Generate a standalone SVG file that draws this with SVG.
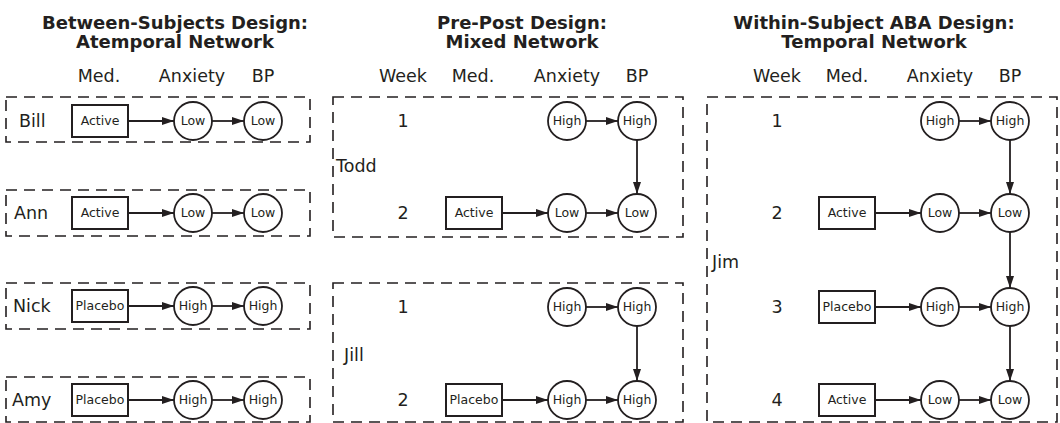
<svg xmlns="http://www.w3.org/2000/svg" width="1060" height="423" viewBox="0 0 1060 423">
<style>
  text { font-family: "DejaVu Sans", Verdana, "Liberation Sans", sans-serif; fill: #231f20; }
  .title { font-size: 18px; font-weight: bold; text-anchor: middle; }
  .hdr { font-size: 17.5px; text-anchor: middle; }
  .name { font-size: 17.5px; }
  .wk { font-size: 17.5px; text-anchor: middle; }
  .nt { font-size: 12.5px; text-anchor: middle; }
  .box { fill: none; stroke: #231f20; stroke-width: 1.6; stroke-dasharray: 11 7; }
  .med { fill: #fff; stroke: #231f20; stroke-width: 2; }
  .var { fill: #fff; stroke: #231f20; stroke-width: 1.8; }
  .edge { fill: none; stroke: #231f20; stroke-width: 1.8; marker-end: url(#ah); }
</style>
<defs>
  <marker id="ah" viewBox="0 0 12 8" refX="12" refY="4" markerWidth="12" markerHeight="8" markerUnits="userSpaceOnUse" orient="auto">
    <path d="M0,0 L12,4 L0,8 z" fill="#231f20"/>
  </marker>
</defs>

<!-- titles and headers -->
<g id="headers">
  <text class="title" x="175" y="29">Between-Subjects Design:</text>
  <text class="title" x="175" y="48">Atemporal Network</text>
  <text class="title" x="522" y="29">Pre-Post Design:</text>
  <text class="title" x="522" y="48">Mixed Network</text>
  <text class="title" x="874" y="29">Within-Subject ABA Design:</text>
  <text class="title" x="874" y="48">Temporal Network</text>

  <text class="hdr" x="99" y="82">Med.</text>
  <text class="hdr" x="192" y="82">Anxiety</text>
  <text class="hdr" x="263" y="82">BP</text>

  <text class="hdr" x="403" y="82">Week</text>
  <text class="hdr" x="473" y="82">Med.</text>
  <text class="hdr" x="567" y="82">Anxiety</text>
  <text class="hdr" x="637" y="82">BP</text>

  <text class="hdr" x="777" y="82">Week</text>
  <text class="hdr" x="847" y="82">Med.</text>
  <text class="hdr" x="940" y="82">Anxiety</text>
  <text class="hdr" x="1010" y="82">BP</text>
</g>

<!-- subject boxes -->
<g id="box-bill"><rect class="box" x="6" y="97" width="304" height="45"/><text class="name" x="19" y="127">Bill</text></g>
<g id="box-ann"><rect class="box" x="6" y="190" width="304" height="46"/><text class="name" x="14" y="219">Ann</text></g>
<g id="box-nick"><rect class="box" x="6" y="283" width="304" height="46"/><text class="name" x="13" y="312">Nick</text></g>
<g id="box-amy"><rect class="box" x="6" y="377" width="304" height="45"/><text class="name" x="12" y="406">Amy</text></g>
<g id="box-todd"><rect class="box" x="333" y="97" width="350" height="140"/><text class="name" x="336" y="172">Todd</text></g>
<g id="box-jill"><rect class="box" x="333" y="283" width="350" height="139"/><text class="name" x="344" y="361">Jill</text></g>
<g id="box-jim"><rect class="box" x="707" y="97" width="350" height="325"/><text class="name" x="712" y="268">Jim</text></g>

<!-- week labels -->
<g id="weeks">
  <text class="wk" x="403" y="127">1</text>
  <text class="wk" x="403" y="219">2</text>
  <text class="wk" x="403" y="313">1</text>
  <text class="wk" x="403" y="406">2</text>
  <text class="wk" x="777" y="127">1</text>
  <text class="wk" x="777" y="219">2</text>
  <text class="wk" x="777" y="313">3</text>
  <text class="wk" x="777" y="406">4</text>
</g>

<!-- connectors -->
<g id="connectors">
  <line class="edge" x1="128" y1="121" x2="174" y2="121"/>
  <line class="edge" x1="212" y1="121" x2="244" y2="121"/>
  <line class="edge" x1="128" y1="213" x2="174" y2="213"/>
  <line class="edge" x1="212" y1="213" x2="244" y2="213"/>
  <line class="edge" x1="128" y1="306" x2="174" y2="306"/>
  <line class="edge" x1="212" y1="306" x2="244" y2="306"/>
  <line class="edge" x1="128" y1="400" x2="174" y2="400"/>
  <line class="edge" x1="212" y1="400" x2="244" y2="400"/>

  <line class="edge" x1="586" y1="121" x2="618" y2="121"/>
  <line class="edge" x1="637" y1="140" x2="637" y2="194"/>
  <line class="edge" x1="502" y1="213" x2="548" y2="213"/>
  <line class="edge" x1="586" y1="213" x2="618" y2="213"/>

  <line class="edge" x1="586" y1="307" x2="618" y2="307"/>
  <line class="edge" x1="637" y1="326" x2="637" y2="381"/>
  <line class="edge" x1="502" y1="400" x2="548" y2="400"/>
  <line class="edge" x1="586" y1="400" x2="618" y2="400"/>

  <line class="edge" x1="959" y1="121" x2="991" y2="121"/>
  <line class="edge" x1="1010" y1="140" x2="1010" y2="194"/>
  <line class="edge" x1="875" y1="213" x2="921" y2="213"/>
  <line class="edge" x1="959" y1="213" x2="991" y2="213"/>
  <line class="edge" x1="1010" y1="232" x2="1010" y2="288"/>
  <line class="edge" x1="875" y1="307" x2="921" y2="307"/>
  <line class="edge" x1="959" y1="307" x2="991" y2="307"/>
  <line class="edge" x1="1010" y1="326" x2="1010" y2="381"/>
  <line class="edge" x1="875" y1="400" x2="921" y2="400"/>
  <line class="edge" x1="959" y1="400" x2="991" y2="400"/>
</g>

<!-- Panel 1 nodes -->
<g id="bill-med"><rect class="med" x="72" y="105" width="56" height="32"/><text class="nt" x="100" y="125">Active</text></g>
<g id="bill-anx"><circle class="var" cx="193" cy="121" r="19"/><text class="nt" x="193" y="125">Low</text></g>
<g id="bill-bp"><circle class="var" cx="263" cy="121" r="19"/><text class="nt" x="263" y="125">Low</text></g>

<g id="ann-med"><rect class="med" x="72" y="197" width="56" height="32"/><text class="nt" x="100" y="217">Active</text></g>
<g id="ann-anx"><circle class="var" cx="193" cy="213" r="19"/><text class="nt" x="193" y="217">Low</text></g>
<g id="ann-bp"><circle class="var" cx="263" cy="213" r="19"/><text class="nt" x="263" y="217">Low</text></g>

<g id="nick-med"><rect class="med" x="72" y="290" width="56" height="32"/><text class="nt" x="100" y="310">Placebo</text></g>
<g id="nick-anx"><circle class="var" cx="193" cy="306" r="19"/><text class="nt" x="193" y="310">High</text></g>
<g id="nick-bp"><circle class="var" cx="263" cy="306" r="19"/><text class="nt" x="263" y="310">High</text></g>

<g id="amy-med"><rect class="med" x="72" y="384" width="56" height="32"/><text class="nt" x="100" y="404">Placebo</text></g>
<g id="amy-anx"><circle class="var" cx="193" cy="400" r="19"/><text class="nt" x="193" y="404">High</text></g>
<g id="amy-bp"><circle class="var" cx="263" cy="400" r="19"/><text class="nt" x="263" y="404">High</text></g>

<!-- Panel 2 nodes -->
<g id="todd-anx1"><circle class="var" cx="567" cy="121" r="19"/><text class="nt" x="567" y="125">High</text></g>
<g id="todd-bp1"><circle class="var" cx="637" cy="121" r="19"/><text class="nt" x="637" y="125">High</text></g>
<g id="todd-med2"><rect class="med" x="446" y="197" width="56" height="32"/><text class="nt" x="474" y="217">Active</text></g>
<g id="todd-anx2"><circle class="var" cx="567" cy="213" r="19"/><text class="nt" x="567" y="217">Low</text></g>
<g id="todd-bp2"><circle class="var" cx="637" cy="213" r="19"/><text class="nt" x="637" y="217">Low</text></g>

<g id="jill-anx1"><circle class="var" cx="567" cy="307" r="19"/><text class="nt" x="567" y="311">High</text></g>
<g id="jill-bp1"><circle class="var" cx="637" cy="307" r="19"/><text class="nt" x="637" y="311">High</text></g>
<g id="jill-med2"><rect class="med" x="446" y="384" width="56" height="32"/><text class="nt" x="474" y="404">Placebo</text></g>
<g id="jill-anx2"><circle class="var" cx="567" cy="400" r="19"/><text class="nt" x="567" y="404">High</text></g>
<g id="jill-bp2"><circle class="var" cx="637" cy="400" r="19"/><text class="nt" x="637" y="404">High</text></g>

<!-- Panel 3 nodes -->
<g id="jim-anx1"><circle class="var" cx="940" cy="121" r="19"/><text class="nt" x="940" y="125">High</text></g>
<g id="jim-bp1"><circle class="var" cx="1010" cy="121" r="19"/><text class="nt" x="1010" y="125">High</text></g>
<g id="jim-med2"><rect class="med" x="819" y="197" width="56" height="32"/><text class="nt" x="847" y="217">Active</text></g>
<g id="jim-anx2"><circle class="var" cx="940" cy="213" r="19"/><text class="nt" x="940" y="217">Low</text></g>
<g id="jim-bp2"><circle class="var" cx="1010" cy="213" r="19"/><text class="nt" x="1010" y="217">Low</text></g>
<g id="jim-med3"><rect class="med" x="819" y="291" width="56" height="32"/><text class="nt" x="847" y="311">Placebo</text></g>
<g id="jim-anx3"><circle class="var" cx="940" cy="307" r="19"/><text class="nt" x="940" y="311">High</text></g>
<g id="jim-bp3"><circle class="var" cx="1010" cy="307" r="19"/><text class="nt" x="1010" y="311">High</text></g>
<g id="jim-med4"><rect class="med" x="819" y="384" width="56" height="32"/><text class="nt" x="847" y="404">Active</text></g>
<g id="jim-anx4"><circle class="var" cx="940" cy="400" r="19"/><text class="nt" x="940" y="404">Low</text></g>
<g id="jim-bp4"><circle class="var" cx="1010" cy="400" r="19"/><text class="nt" x="1010" y="404">Low</text></g>
</svg>
